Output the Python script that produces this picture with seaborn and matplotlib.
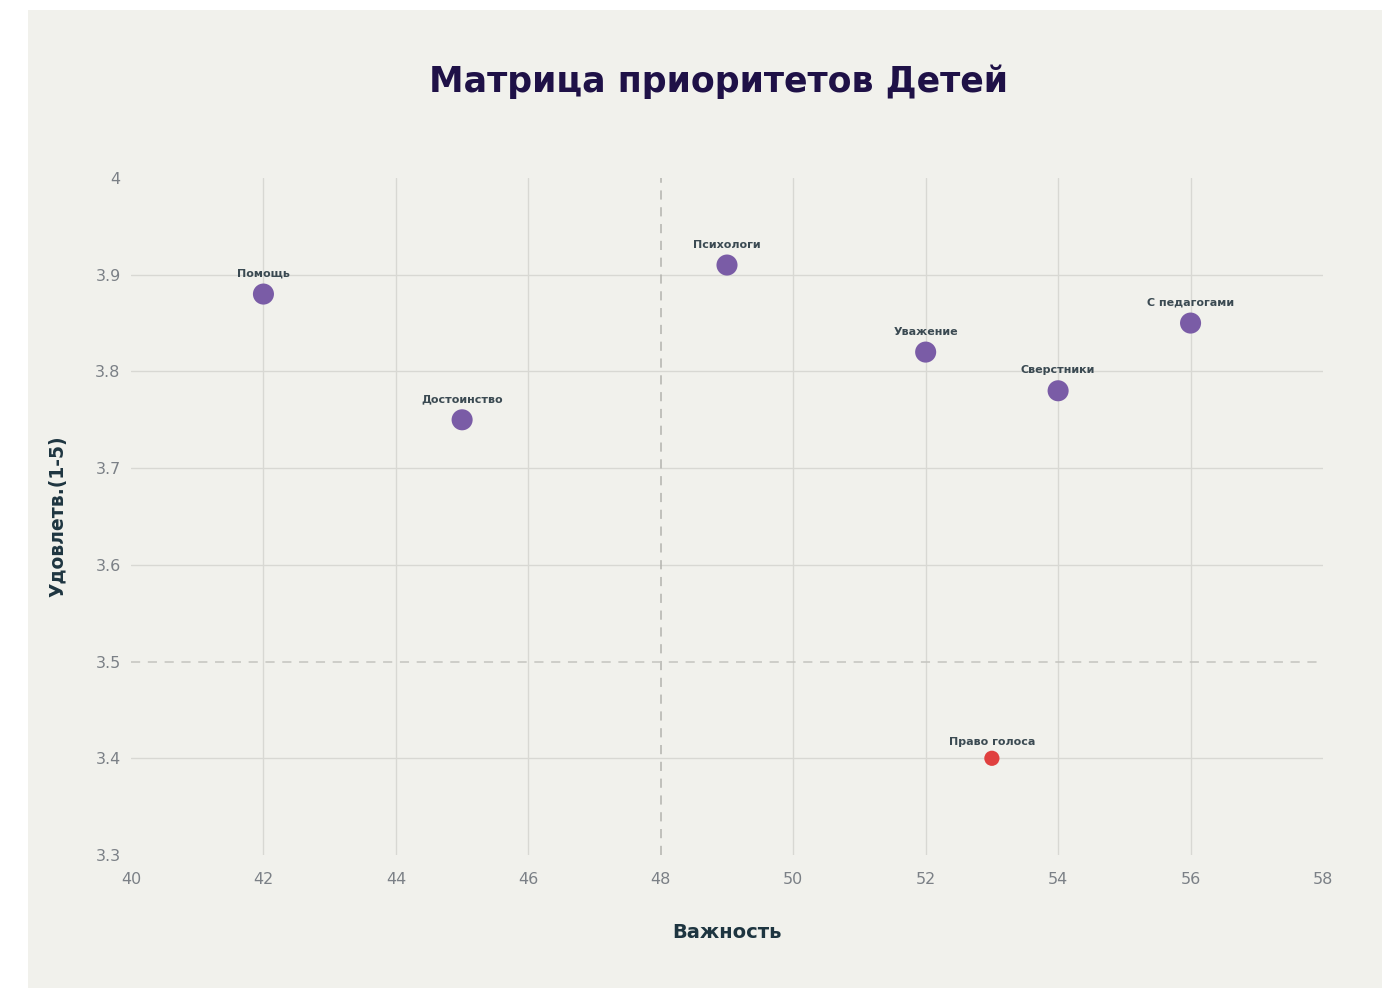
import pandas as pd
import seaborn as sns
import matplotlib.pyplot as plt
from matplotlib.patches import Rectangle

# ------------------- Data --------------------
labels = ["Помощь", "Достоинство", "Психологи", "Уважение", "Сверстники", "С педагогами", "Право голоса"]
importance = [42, 45, 49, 52, 54, 56, 53]
satisfaction = [3.88, 3.75, 3.91, 3.82, 3.78, 3.85, 3.40]
group = ["ok", "ok", "ok", "ok", "ok", "ok", "low"]

x_ticks = [40, 42, 44, 46, 48, 50, 52, 54, 56, 58]
y_ticks = [3.3, 3.4, 3.5, 3.6, 3.7, 3.8, 3.9, 4.0]
y_tick_labels = ["3.3", "3.4", "3.5", "3.6", "3.7", "3.8", "3.9", "4"]

df = pd.DataFrame({"label": labels, "x": importance, "y": satisfaction, "group": group})

# ------------------- Plot --------------------
sns.set_theme(style="white")
plt.rcParams['font.family'] = ['DejaVu Sans']

bg = "#f1f1ec"
fig = plt.figure(figsize=(13.82, 9.89), dpi=100, facecolor="white")
# light panel behind everything (white margin on top and left)
fig.patches.append(Rectangle((28 / 1382, 1 - 988 / 989), 1 - 28 / 1382, (988 - 10) / 989,
                             transform=fig.transFigure, facecolor=bg, edgecolor="none", zorder=-10))
ax = fig.add_axes([131 / 1382, 1 - 855 / 989, (1323 - 131) / 1382, (855 - 178) / 989])
ax.set_facecolor(bg)

# grid lines (interior only)
grid_c = "#d8d8d3"
for xv in x_ticks[1:-1]:
    if xv != 48:
        ax.axvline(xv, color=grid_c, lw=1.0, zorder=1)
for yv in y_ticks[1:-1]:
    if yv != 3.5:
        ax.axhline(yv, color=grid_c, lw=1.0, zorder=1)
ax.axvline(48, color="#b3b3ae", lw=1.1, ls=(0, (6, 5)), zorder=1)
ax.axhline(3.5, color="#c4c4bf", lw=1.1, ls=(0, (6, 5)), zorder=1)

sns.scatterplot(data=df, x="x", y="y", hue="group", size="group",
                palette={"ok": "#7a5ca6", "low": "#e0403f"},
                sizes={"ok": 230, "low": 120},
                linewidth=0, legend=False, ax=ax, zorder=3)

for lab, xv, yv, g in zip(labels, importance, satisfaction, group):
    off = 0.016 if g == "ok" else 0.012
    ax.text(xv, yv + off, lab, ha="center", va="bottom", fontsize=8,
            fontweight="semibold", color="#3b4a52")

ax.set_xlim(40, 58)
ax.set_ylim(3.3, 4.0)
ax.set_xticks(x_ticks)
ax.set_yticks(y_ticks)
ax.set_yticklabels(y_tick_labels)
ax.tick_params(axis="both", labelsize=11.5, colors="#7b8086", length=4, width=0.6)
ax.tick_params(axis="x", pad=8)
for s in ax.spines.values():
    s.set_visible(False)

ax.set_xlabel("Важность", fontsize=14, fontweight="bold", color="#1e3540", labelpad=26)
ax.set_ylabel("Удовлетв.(1-5)", fontsize=13.5, fontweight="bold", color="#1e3540", labelpad=20)

fig.text(718 / 1382, 1 - 82 / 989, "Матрица приоритетов Детей", ha="center", va="center",
         fontsize=25, fontweight="heavy", color="#1f1147")

plt.savefig("out.png", dpi=100, facecolor=fig.get_facecolor())
plt.close()
